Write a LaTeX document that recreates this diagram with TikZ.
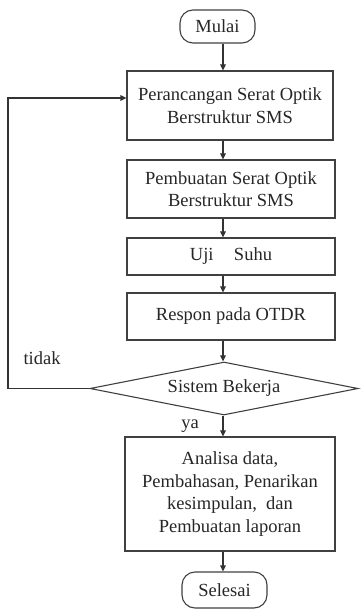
\documentclass[tikz,border=0pt]{standalone}
\usepackage{fontspec}
\setmainfont{Liberation Serif}
\usetikzlibrary{shapes.geometric,arrows.meta}
\begin{document}
\begin{tikzpicture}[x=1pt,y=1pt,
  every node/.style={text=black!85, font=\fontsize{18.5}{22.5}\selectfont},
  procbox/.style={draw=black!75, line width=1.1pt, rectangle, inner sep=2pt, align=center},
  termbox/.style={draw=black!75, line width=1.1pt, rectangle, rounded corners=13pt, inner sep=2pt},
  decbox/.style={draw=black!75, line width=1.1pt, diamond, inner sep=0pt, shape aspect=5.06, minimum width=268pt, minimum height=53pt},
  arr/.style={draw=black!80, line width=1.1pt, -{Triangle[length=6pt,width=5.5pt]}},
  lbl/.style={inner sep=0pt}
]
\useasboundingbox (0,0) rectangle (360,-609);
\node[termbox, minimum width=75pt, minimum height=33pt] (mulai) at (217.5,-26.5) {Mulai};
\node[procbox, minimum width=206pt, minimum height=69pt] (b1) at (230,-105.5) {Perancangan Serat Optik\\Berstruktur SMS};
\node[procbox, minimum width=208pt, minimum height=58pt] (b2) at (231,-189) {Pembuatan Serat Optik\\Berstruktur SMS};
\node[procbox, minimum width=208pt, minimum height=37pt] (b3) at (231,-256.5) {Uji\hspace{1.1em}Suhu};
\node[procbox, minimum width=208pt, minimum height=47pt] (b4) at (231,-316.5) {Respon pada OTDR};
\node[decbox] (dec) at (224,-388.5) {Sistem Bekerja};
\node[procbox, minimum width=210pt, minimum height=114pt] (b5) at (230,-494) {Analisa data,\\Pembahasan, Penarikan\\kesimpulan,\ \ dan\\Pembuatan laporan};
\node[termbox, minimum width=85pt, minimum height=36pt] (selesai) at (224.5,-590) {Selesai};
\node[lbl] (tidak) at (42,-358) {tidak};
\node[lbl] (ya) at (190,-426) {ya};
\coordinate (col) at (223,0);
\coordinate (loopx) at (8,0);
\draw[arr] (mulai.south -| col) -- (b1.north -| col);
\draw[arr] (b1.south -| col) -- (b2.north -| col);
\draw[arr] (b2.south -| col) -- (b3.north -| col);
\draw[arr] (b3.south -| col) -- (b4.north -| col);
\draw[arr] (b4.south -| col) -- (dec.north -| col);
\draw[arr] (dec.south -| col) -- (b5.north -| col);
\draw[arr] (b5.south -| col) -- (selesai.north -| col);
\draw[arr] (dec.west) -- (dec.west -| loopx) |- ([yshift=7.5pt]b1.west);
\end{tikzpicture}
\end{document}
